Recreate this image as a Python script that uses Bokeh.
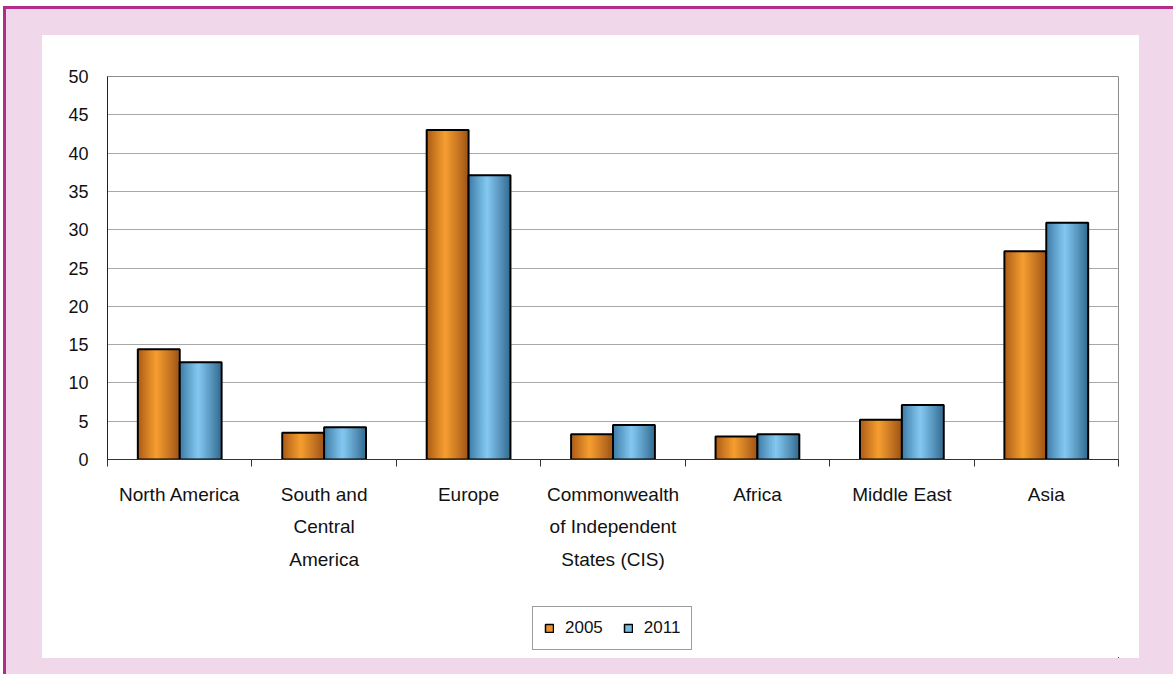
import numpy as np
from bokeh.plotting import figure
from bokeh.layouts import column
from bokeh.models import (Range1d, LinearAxis, FixedTicker, CustomJSTickFormatter,
                          Legend, LegendItem)
from bokeh.embed import file_html
from bokeh.resources import INLINE

# ---------------- data ----------------
categories = ["North America", "South and Central America", "Europe",
              "Commonwealth of Independent States (CIS)", "Africa", "Middle East", "Asia"]
label_line1 = ["North America", "South and", "Europe", "Commonwealth", "Africa", "Middle East", "Asia"]
label_line2 = ["", "Central", "", "of Independent", "", "", ""]
label_line3 = ["", "America", "", "States (CIS)", "", "", ""]
series_names = ["2005", "2011"]
values_2005 = [14.4, 3.5, 43.0, 3.3, 3.0, 5.2, 27.2]
values_2011 = [12.7, 4.2, 37.1, 4.5, 3.3, 7.1, 30.9]
y_ticks = [0, 5, 10, 15, 20, 25, 30, 35, 40, 45, 50]

# ---------------- styling ----------------
FONT = "Liberation Sans"
TXT = "#111111"
PINK = "#f0d8ea"
MAGENTA = "#b22d88"
orange_dark, orange_light, orange_dark_r = (166, 86, 20), (246, 158, 48), (156, 82, 22)
blue_dark, blue_light, blue_dark_r = (56, 118, 160), (132, 200, 241), (48, 104, 142)

n = len(categories)
centers = np.arange(n) + 0.5
boundaries = list(np.arange(n + 1).astype(float))
bar_w = 0.29

p = figure(width=1097, height=555, output_backend="svg", toolbar_location=None,
           x_range=Range1d(0, n), y_range=Range1d(0, 50),
           x_axis_location=None, y_axis_location=None,
           min_border_left=65, min_border_right=21, min_border_top=41, min_border_bottom=131,
           border_fill_color="white", background_fill_color="white",
           outline_line_color="#8c8c8c", outline_line_width=1,
           margin=(26, 34, 0, 36), styles={"background-color": "white"})

# grid
p.ygrid.grid_line_color = "#a8a8a8"
p.ygrid.grid_line_width = 1
p.ygrid.ticker = FixedTicker(ticks=y_ticks)
p.xgrid.grid_line_color = None


def mix(a, b, t):
    return "#%02x%02x%02x" % tuple(int(round(a[k] + (b[k] - a[k]) * t)) for k in range(3))


def gradient_bar(xc, tops, dark, light, dark_r, nstrips=28):
    sw = bar_w / nstrips
    for k in range(nstrips):
        t = (k + 0.5) / nstrips
        peak = 0.45
        if t <= peak:
            col = mix(dark, light, (t / peak) ** 0.9)
        else:
            col = mix(dark_r, light, ((1 - t) / (1 - peak)) ** 0.9)
        xs = xc - bar_w / 2 + (k + 0.5) * sw
        w = sw * 1.6 if 0 < k < nstrips - 1 else sw
        p.vbar(x=xs, top=tops, bottom=0, width=w, fill_color=col, line_color=None)
    p.vbar(x=xc, top=tops, bottom=0, width=bar_w, fill_color=None,
           line_color="black", line_width=2)


x05 = centers - bar_w / 2
x11 = centers + bar_w / 2
gradient_bar(x05, values_2005, orange_dark, orange_light, orange_dark_r)
gradient_bar(x11, values_2011, blue_dark, blue_light, blue_dark_r)

# y axis
yax = LinearAxis(ticker=FixedTicker(ticks=y_ticks, minor_ticks=[]),
                 axis_line_color="#222222", axis_line_width=1,
                 major_tick_out=0, major_tick_in=0, minor_tick_out=0, minor_tick_in=0,
                 major_label_standoff=19,
                 major_label_text_font=FONT, major_label_text_font_size="18px",
                 major_label_text_color=TXT)
p.add_layout(yax, "left")


def label_axis(lines, standoff, first=False, size="19px"):
    fmt = CustomJSTickFormatter(args=dict(lines=lines),
                                code="const i = Math.round(tick - 0.5); "
                                     "return (lines[i] !== undefined) ? lines[i] : '';")
    ax = LinearAxis(ticker=FixedTicker(ticks=list(centers),
                                       minor_ticks=boundaries if first else []),
                    formatter=fmt,
                    major_tick_out=0, major_tick_in=0,
                    minor_tick_out=7 if first else 0, minor_tick_in=0,
                    minor_tick_line_color="#333333",
                    major_label_standoff=standoff,
                    major_label_text_font=FONT, major_label_text_font_size=size,
                    major_label_text_color=TXT)
    if first:
        ax.axis_line_color = "#333333"
        ax.axis_line_width = 1
    else:
        ax.axis_line_color = None
    p.add_layout(ax, "below")


label_axis(label_line1, 17, first=True)
label_axis(label_line2, 8)
label_axis(label_line3, 9)

# legend in its own small figure below the chart (its frame aligns with the chart frame)
lf = figure(width=1097, height=68, output_backend="svg", toolbar_location=None,
            x_range=Range1d(-1000 - n, -1000), y_range=Range1d(1000, 1001),
            x_axis_location=None, y_axis_location=None,
            min_border=0, border_fill_color="white", background_fill_color="white",
            outline_line_color=None, margin=(0, 34, 16, 36),
            styles={"background-color": "white"})
lf.xgrid.grid_line_color = None
lf.ygrid.grid_line_color = None
# proxies carrying the series styling (bars lie far outside this figure's visible ranges)
r05 = lf.vbar(x=x05, top=values_2005, bottom=0, width=bar_w,
              fill_color=mix(orange_dark, orange_light, 0.85),
              line_color="black", line_width=1.5)
r11 = lf.vbar(x=x11, top=values_2011, bottom=0, width=bar_w,
              fill_color=mix(blue_dark, blue_light, 0.85),
              line_color="black", line_width=1.5)
legend = Legend(items=[LegendItem(label=series_names[0], renderers=[r05]),
                       LegendItem(label=series_names[1], renderers=[r11])],
                orientation="horizontal", location=(425, 8),
                border_line_color="#3c3c3c", border_line_width=1,
                background_fill_color="white", background_fill_alpha=1,
                padding=11, spacing=20, label_standoff=11, margin=0,
                glyph_width=10, glyph_height=10, label_height=20,
                label_text_font=FONT, label_text_font_size="17px", label_text_color=TXT)
lf.add_layout(legend)

page = column(p, lf, margin=(6, 0, 0, 3), spacing=0,
              styles={"background-color": PINK,
                      "border-top": "3px solid " + MAGENTA,
                      "border-left": "3px solid " + MAGENTA})

open("out.html", "w").write(file_html(page, INLINE))
